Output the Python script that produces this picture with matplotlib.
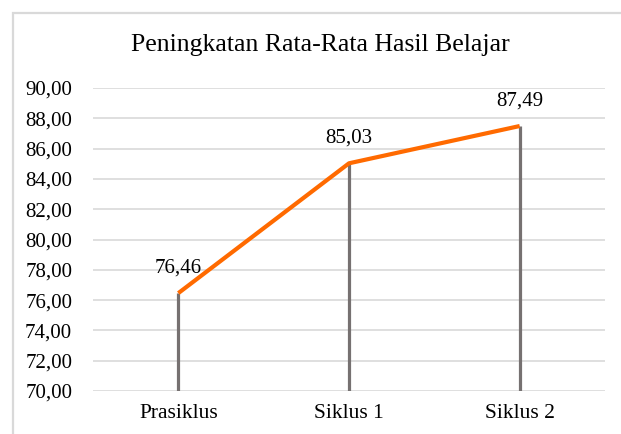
import numpy as np
import matplotlib
matplotlib.use('Agg')
import matplotlib.pyplot as plt
from matplotlib.patches import Rectangle

categories = ["Prasiklus", "Siklus 1", "Siklus 2"]
values = [76.46, 85.03, 87.49]
labels = ["76,46", "85,03", "87,49"]
yticks = np.arange(70, 91, 2)
title = "Peningkatan Rata-Rata Hasil Belajar"

plt.rcParams['font.family'] = ['Liberation Serif', 'DejaVu Serif']

fig = plt.figure(figsize=(6.21, 4.34), dpi=100)
W, H = 621, 434

# chart frame (light gray, open at right and bottom)
fig.patches.append(Rectangle((13 / W, -0.05), 1.1, 1 - 13 / H + 0.05,
                             transform=fig.transFigure, fill=False,
                             edgecolor='#d9d9d9', linewidth=1.6))

ax = fig.add_axes([93 / W, 1 - 391 / H, (605 - 93) / W, (391 - 88) / H])

x = np.arange(len(categories))
ax.vlines(x, 70, values, color='#767171', linewidth=2.3, zorder=2)
ax.plot(x, values, color='#ff6a00', linewidth=3, solid_capstyle='butt', zorder=3)

for xi, v, t in zip(x, values, labels):
    ax.annotate(t, (xi, v), xytext=(0, 11), textcoords='offset points',
                ha='center', va='bottom', fontsize=15)

ax.set_xlim(-0.5, len(categories) - 0.5)
ax.set_ylim(70, 90)
ax.set_yticks(yticks)
ax.set_yticklabels([f"{t:.2f}".replace('.', ',') for t in yticks])
ax.set_xticks(x)
ax.set_xticklabels(categories)
ax.tick_params(axis='y', length=0, pad=15, labelsize=15)
ax.tick_params(axis='x', length=0, pad=9, labelsize=15.5)
ax.grid(axis='y', color='#d9d9d9', linewidth=1.2)
ax.set_axisbelow(True)
for s in ax.spines.values():
    s.set_visible(False)

fig.text(320 / W, 1 - 45 / H, title, ha='center', va='center', fontsize=18.5)

fig.savefig('out.png', dpi=100)
